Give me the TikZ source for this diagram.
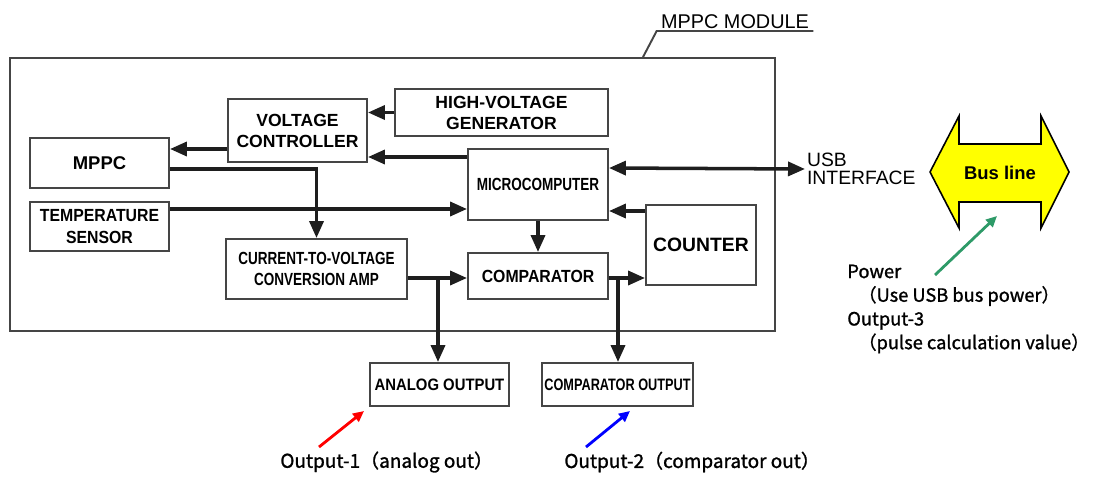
\documentclass[tikz,border=0pt]{standalone}
\usepackage{fontspec}
\usepackage{xcolor}
\usetikzlibrary{arrows.meta, positioning, calc}
\setmainfont{Liberation Sans}
\newfontfamily\wideFace{Liberation Sans}
\newfontfamily\midFace[FakeStretch=0.9]{Liberation Sans}
\newfontfamily\slimFace[FakeStretch=0.77]{Liberation Sans}
\newfontfamily\noteFace[FakeBold=1.2]{Noto Sans CJK JP}
\definecolor{lineColor}{HTML}{1E1E1E}
\definecolor{boxColor}{HTML}{454545}
\definecolor{busColor}{HTML}{FFFF00}
\definecolor{powerColor}{HTML}{2E9A68}

\begin{document}
\begin{tikzpicture}[
    x=0.02cm, y=-0.02cm,
    >={Triangle[length=0.34cm, width=0.28cm]},
    block/.style={draw=boxColor, line width=1.1pt, align=center, inner sep=1pt, text=black},
    wideText/.style={font=\wideFace\bfseries\fontsize{10}{12}\selectfont},
    midText/.style={font=\midFace\bfseries\fontsize{10}{12}\selectfont},
    slimText/.style={font=\slimFace\bfseries\fontsize{10}{12}\selectfont},
    sig/.style={->, line width=2pt, draw=lineColor},
    dsig/.style={<->, line width=2pt, draw=lineColor},
    note/.style={font=\noteFace\fontsize{10.8}{13.5}\selectfont, anchor=west, inner sep=0pt},
    pointer/.style={-{Triangle[length=0.22cm, width=0.2cm]}, line width=1.6pt}
]
\useasboundingbox (0,0) rectangle (1094,480);

\node[draw=boxColor, line width=1.1pt, minimum width=15.3cm, minimum height=5.46cm] (Module) at (392.5,194.5) {};
\node[font=\wideFace\fontsize{11.3}{13}\selectfont, minimum width=3.12cm, inner sep=1pt, anchor=south] (ModLabel) at (735,31) {MPPC MODULE};
\draw[draw=boxColor, line width=1.1pt] (Module.north -| 643,0) -- (ModLabel.south west) -- (ModLabel.south east);

\node[block, wideText, minimum width=2.78cm, minimum height=1.26cm] (VC) at (297.5,130.5) {VOLTAGE\\CONTROLLER};
\node[block, wideText, minimum width=4.26cm, minimum height=0.94cm] (HVG) at (501.5,112.5) {HIGH-VOLTAGE\\GENERATOR};
\node[block, wideText, font=\wideFace\bfseries\fontsize{10.5}{12}\selectfont, minimum width=2.78cm, minimum height=1cm] (MPPC) at (99.5,163) {MPPC};
\node[block, midText, minimum width=2.78cm, minimum height=0.98cm] (TS) at (99.5,226.5) {TEMPERATURE\\SENSOR};
\node[block, slimText, minimum width=3.62cm, minimum height=1.2cm] (IVAmp) at (316.5,269) {CURRENT-TO-VOLTAGE\\CONVERSION AMP};
\node[block, slimText, minimum width=2.8cm, minimum height=1.42cm] (MCU) at (538,184.5) {MICROCOMPUTER};
\node[block, midText, minimum width=2.8cm, minimum height=0.92cm] (Comp) at (538,276) {COMPARATOR};
\node[block, wideText, font=\wideFace\bfseries\fontsize{11}{12}\selectfont, minimum width=2.2cm, minimum height=1.6cm] (Cnt) at (701,245) {COUNTER};
\node[block, midText, font=\midFace\bfseries\fontsize{9.4}{12}\selectfont, minimum width=2.78cm, minimum height=0.86cm] (AOut) at (439.5,384.5) {ANALOG OUTPUT};
\node[block, slimText, font=\slimFace\bfseries\fontsize{9.4}{12}\selectfont, minimum width=3.02cm, minimum height=0.86cm] (COut) at (617.5,384.5) {COMPARATOR OUTPUT};
\node[font=\wideFace\fontsize{11}{10.5}\selectfont, align=left, anchor=west, inner sep=1pt] (USB) at (805,169) {USB\\INTERFACE};

\draw[sig] (HVG.west) -- (VC.east |- HVG.west);
\draw[sig] (VC.west |- 0,149) -- (MPPC.east |- 0,149);
\draw[sig] (MCU.west |- 0,157) -- (VC.east |- 0,157);
\draw[sig] (MPPC.east |- 0,169) -| (IVAmp.north);
\draw[sig] (TS.east |- 0,209) -- (MCU.west |- 0,209);
\draw[sig] (MCU.south) -- (Comp.north);
\draw[sig] (IVAmp.east |- 0,278) -- (Comp.west |- 0,278);
\draw[sig] (Comp.east |- 0,278) -- (Cnt.west |- 0,278);
\draw[sig] (Cnt.west |- 0,211) -- (MCU.east |- 0,211);
\draw[dsig] (MCU.east |- 0,168) -- (USB.west);

\coordinate (AJoin) at (438,278);
\coordinate (CJoin) at (618,278);
\draw[sig] (AJoin) -- (AJoin |- AOut.north);
\draw[sig] (CJoin) -- (CJoin |- COut.north);

\draw[draw=black, line width=0.9pt, fill=busColor] (930,172) -- (959,116) -- (959,144) -- (1041,144) -- (1041,116) -- (1069,172) -- (1041,228) -- (1041,202) -- (959,202) -- (959,228) -- cycle;
\node[font=\wideFace\bfseries\fontsize{10.5}{12}\selectfont] (Bus) at (1000,173) {Bus line};

\node[note] (Out1) at (280,462) {Output-1（analog out）};
\node[note] (Out2) at (564,462) {Output-2（comparator out）};
\node[note, font=\noteFace\fontsize{10.4}{13.5}\selectfont, align=left] (Power) at (847,309) {Power\\\hspace{0.6em}（Use USB bus power）\\Output-3\\\hspace{0.6em}（pulse calculation value）};

\coordinate (RedTail) at (319,447);
\coordinate (RedHead) at (364,411);
\coordinate (BlueTail) at (586,447);
\coordinate (BlueHead) at (630,411);
\coordinate (GreenTail) at (935,275);
\coordinate (GreenHead) at (997,216);
\draw[pointer, red] (RedTail) -- (RedHead);
\draw[pointer, blue] (BlueTail) -- (BlueHead);
\draw[pointer, powerColor] (GreenTail) -- (GreenHead);

\end{tikzpicture}
\end{document}
